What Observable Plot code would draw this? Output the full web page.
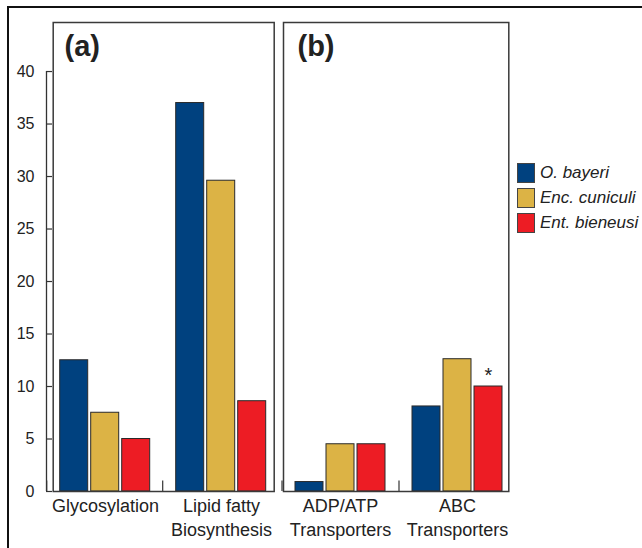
<!DOCTYPE html>
<html><head><meta charset="utf-8">
<script src="https://cdn.jsdelivr.net/npm/d3@7"></script>
<script src="https://cdn.jsdelivr.net/npm/@observablehq/plot@0.6"></script>
<style>
html,body{margin:0;padding:0;background:#fff;}
#wrap{position:relative;width:642px;height:548px;overflow:hidden;font-family:"Liberation Sans",Arial,Helvetica,sans-serif;color:#222;}
#border{position:absolute;left:7px;top:6px;width:700px;height:600px;border-top:2px solid #111;border-left:2px solid #111;}
.plot{position:absolute;top:0;}
#legend{position:absolute;left:517px;top:163px;}
.item{display:flex;align-items:flex-start;height:25px;}
.sw{width:18px;height:20px;box-sizing:border-box;border:1px solid #444;margin-right:5px;}
.lab{font-style:italic;font-size:17px;line-height:20px;color:#222;white-space:nowrap;}
</style></head>
<body>
<div id="wrap"><div id="border"></div><div id="legend"></div></div>
<script>
// ---- data ----
const categories = ["Glycosylation", "Lipid fatty\nBiosynthesis", "ADP/ATP\nTransporters", "ABC\nTransporters"];
const panelA = ["Glycosylation", "Lipid fatty\nBiosynthesis"];
const panelB = ["ADP/ATP\nTransporters", "ABC\nTransporters"];
const series = ["O. bayeri", "Enc. cuniculi", "Ent. bieneusi"];
const oBayeri     = [12.5, 37.0, 0.9, 8.1];
const encCuniculi = [7.5, 29.6, 4.5, 12.6];
const entBieneusi = [5.0, 8.6, 4.5, 10.0];
const entBieneusiNotes = ["", "", "", "*"];
const yTicks = [0, 5, 10, 15, 20, 25, 30, 35, 40];
const yDomainMax = 44.67;
const panelLabels = ["(a)", "(b)"];

const colors = ["#00417f", "#dcb345", "#ed1c24"];
const font = "'Liberation Sans', Arial, Helvetica, sans-serif";

const seriesValues = [oBayeri, encCuniculi, entBieneusi];
const rows = [];
categories.forEach((c, i) => series.forEach((s, j) => rows.push({
  category: c, series: s, value: seriesValues[j][i], note: j === 2 ? entBieneusiNotes[i] : ""
})));

const H = 548, MT = 22, MB = 57;
const wrap = document.getElementById("wrap");

function place(svg, left) {
  svg.classList.add("plot");
  svg.style.left = left + "px";
  wrap.appendChild(svg);
}

// ---- y axis ----
const axis = Plot.plot({
  width: 52, height: H, marginLeft: 46, marginRight: 0, marginTop: MT, marginBottom: MB,
  style: {fontFamily: font, fontSize: "16px", color: "#222", background: "transparent"},
  x: {domain: [0, 1], axis: null},
  y: {domain: [0, yDomainMax], axis: null},
  marks: [
    Plot.ruleX([0], {y1: 0, y2: d3.max(yTicks), stroke: "#333", strokeWidth: 1.3}),
    Plot.ruleY(yTicks, {x1: 0, x2: 1, stroke: "#333", strokeWidth: 1.2}),
    Plot.axisY({ticks: yTicks, tickSize: 0, tickPadding: 12, fontSize: 16, label: null})
  ]
});
place(axis, 0);

// ---- panels ----
function panel(cats, label, o) {
  const data = rows.filter(d => cats.includes(d.category));
  return Plot.plot({
    width: 235, height: H, marginLeft: o.ml, marginRight: o.mr, marginTop: MT, marginBottom: MB,
    style: {fontFamily: font, fontSize: "16px", color: "#222", background: "transparent", overflow: "visible"},
    fx: {domain: cats, paddingInner: o.inner, paddingOuter: 0, axis: null},
    x: {domain: series, paddingInner: 0.1, paddingOuter: 0, axis: null},
    y: {domain: [0, yDomainMax], axis: null},
    color: {domain: series, range: colors},
    marks: [
      Plot.barY(data, {fx: "category", x: "series", y: "value", fill: "series", stroke: "#2a2a2a", strokeWidth: 1}),
      Plot.ruleX(cats, {fx: d => d, x: () => series[0], y1: 0, y2: 1, dx: -27.5, stroke: "#333", strokeWidth: 1.2}),
      Plot.text(cats, {fx: d => d, text: d => d, frameAnchor: "bottom", lineAnchor: "top", dy: 4, fontSize: 18, lineHeight: 1.33, fill: "#222"}),
      Plot.text(data.filter(d => d.note), {fx: "category", x: "series", y: "value", text: "note", dy: -11, fontSize: 20, fill: "#222"}),
      Plot.frame({facet: "super", insetLeft: -o.fl, insetRight: -o.fr, stroke: "#3a3a3a", strokeWidth: 1.5}),
      Plot.text([label], {facet: "super", frameAnchor: "top-left", lineAnchor: "top", textAnchor: "start", dx: o.ldx, dy: 13, fontSize: 29, fontWeight: "bold", fill: "#222"})
    ]
  });
}

place(panel(panelA, panelLabels[0], {ml: 15.3, mr: 11.7, inner: 0.222, fl: 7.3, fr: 7.7, ldx: 4}), 44);
place(panel(panelB, panelLabels[1], {ml: 15, mr: 10.3, inner: 0.211, fl: 11, fr: 5.3, ldx: 3}), 279);

// ---- legend ----
const legend = document.getElementById("legend");
series.forEach((s, i) => {
  const item = document.createElement("div");
  item.className = "item";
  const sw = document.createElement("div");
  sw.className = "sw";
  sw.style.background = colors[i];
  const lab = document.createElement("span");
  lab.className = "lab";
  lab.textContent = s;
  item.appendChild(sw); item.appendChild(lab);
  legend.appendChild(item);
});
</script>
</body></html>
